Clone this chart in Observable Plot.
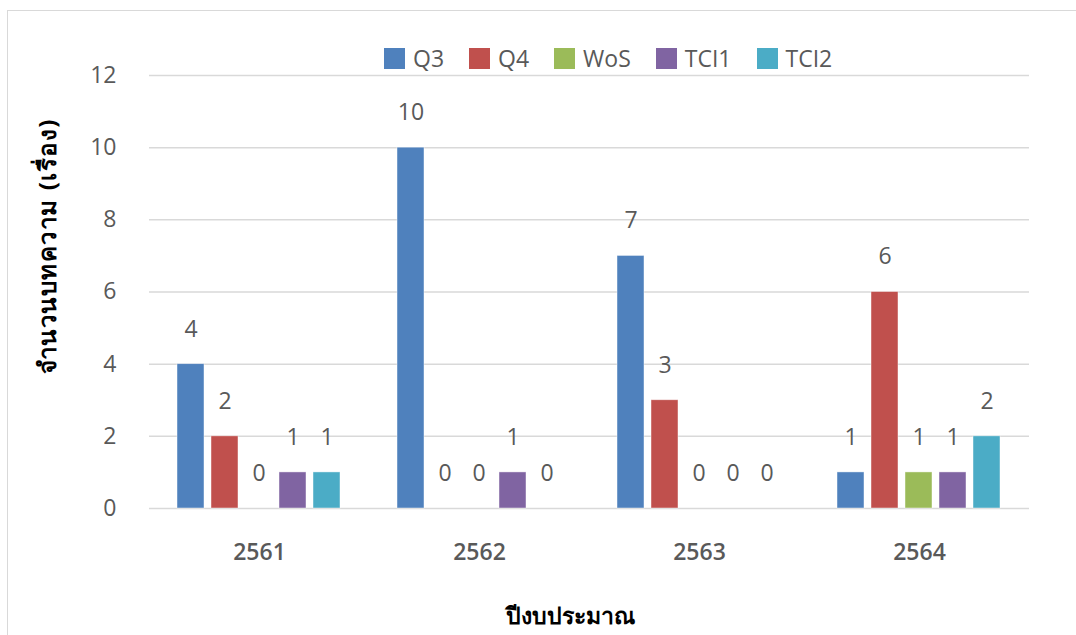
<!DOCTYPE html>
<html>
<head>
<meta charset="utf-8">
<script src="https://cdn.jsdelivr.net/npm/d3@7"></script>
<script src="https://cdn.jsdelivr.net/npm/@observablehq/plot@0.6"></script>
<style>
  html, body { margin: 0; padding: 0; background: #fff; }
  body { width: 1076px; height: 635px; overflow: hidden; position: relative; font-family: "Open Sans", "Noto Sans", sans-serif; }
  #frame { position: absolute; left: 7px; top: 10px; width: 1080px; height: 640px; border-left: 1.5px solid #d9d9d9; border-top: 1.5px solid #d9d9d9; box-sizing: border-box; }
  #chart { position: absolute; left: 0; top: 0; }
  #legend { position: absolute; top: 42px; left: 384px; display: flex; align-items: center; font-size: 23px; color: #595959; white-space: nowrap; }
  #legend .item { display: flex; align-items: center; margin-right: 25px; }
  #legend .sw { width: 21px; height: 21px; margin-right: 8px; }
  #ytitle { position: absolute; left: 47px; top: 246px; transform: translate(-50%, -50%) rotate(-90deg); font-weight: bold; font-size: 24px; letter-spacing: 1.5px; color: #000; white-space: nowrap; }
  #xtitle { position: absolute; left: 570px; top: 616px; transform: translate(-50%, -50%); font-weight: bold; font-size: 23px; color: #000; white-space: nowrap; }
</style>
</head>
<body>
<div id="frame"></div>
<div id="chart"></div>
<div id="legend"></div>
<div id="ytitle">จำนวนบทความ (เรื่อง)</div>
<div id="xtitle">ปีงบประมาณ</div>
<script>
const years = ["2561", "2562", "2563", "2564"];
const seriesNames = ["Q3", "Q4", "WoS", "TCI1", "TCI2"];
const colors = ["#4F81BD", "#C0504D", "#9BBB59", "#8064A2", "#4BACC6"];
const q3 = [4, 10, 7, 1];
const q4 = [2, 0, 3, 6];
const wos = [0, 0, 0, 1];
const tci1 = [1, 1, 0, 1];
const tci2 = [1, 0, 0, 2];
const yTicks = [0, 2, 4, 6, 8, 10, 12];

const seriesValues = [q3, q4, wos, tci1, tci2];
const data = [];
years.forEach((yr, i) => {
  seriesNames.forEach((s, j) => {
    data.push({ year: yr, series: s, value: seriesValues[j][i] });
  });
});

const chart = Plot.plot({
  width: 1076,
  height: 635,
  marginLeft: 147,
  marginRight: 46,
  marginTop: 75,
  marginBottom: 127,
  style: { fontFamily: "'Open Sans', 'Noto Sans', sans-serif", fontSize: "23px", background: "transparent" },
  fx: { domain: years, padding: 0, label: null, axis: null },
  x: { domain: seriesNames, paddingInner: 0.2, paddingOuter: 0.8, axis: null },
  y: { domain: [0, 12], label: null },
  color: { domain: seriesNames, range: colors },
  marks: [
    Plot.ruleY(yTicks, { stroke: "#d9d9d9", strokeWidth: 1.5 }),
    Plot.axisY(yTicks, { tickSize: 0, tickPadding: 33, fill: "#595959", fontSize: 23, label: null }),
    Plot.axisFx({ anchor: "bottom", tickSize: 0, tickPadding: 35, fill: "#595959", fontSize: 23, fontWeight: 600, label: null }),
    Plot.barY(data, { fx: "year", x: "series", y: "value", fill: "series", stroke: "#fff", strokeOpacity: 0.6, strokeWidth: 0.75 }),
    Plot.text(data, { fx: "year", x: "series", y: "value", text: d => String(d.value), dy: -35, fill: "#595959", fontSize: 23 })
  ]
});
document.getElementById("chart").appendChild(chart);

const legend = document.getElementById("legend");
seriesNames.forEach((s, j) => {
  const item = document.createElement("div");
  item.className = "item";
  const sw = document.createElement("div");
  sw.className = "sw";
  sw.style.background = colors[j];
  const lab = document.createElement("span");
  lab.textContent = s;
  item.appendChild(sw);
  item.appendChild(lab);
  legend.appendChild(item);
});
</script>
</body>
</html>
